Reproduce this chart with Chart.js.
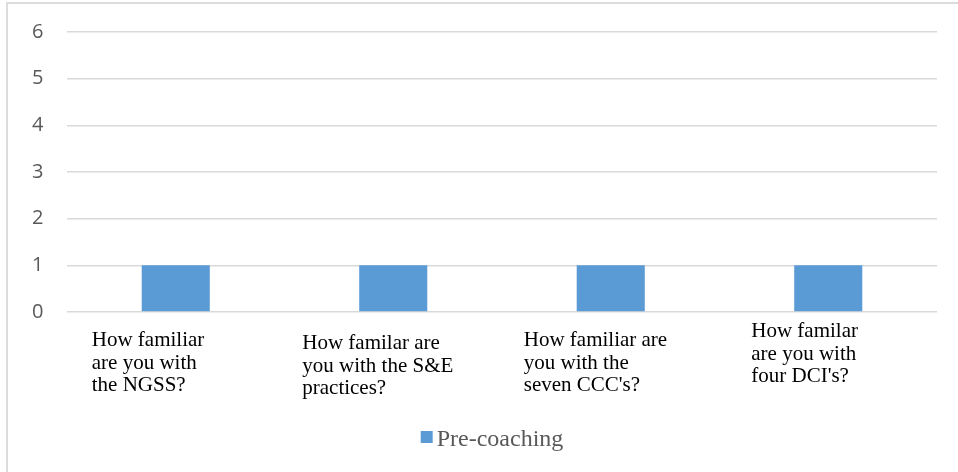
<!DOCTYPE html>
<html>
<head>
<meta charset="utf-8">
<script src="https://cdn.jsdelivr.net/npm/chart.js@4.4.1/dist/chart.umd.min.js"></script>
<style>
  html, body { margin: 0; padding: 0; background: #fff; }
  #frame {
    position: absolute; left: 6px; top: 2px;
    width: 952px; height: 470px;
    border-top: 2px solid #dcdcdc; border-left: 2px solid #dcdcdc;
  }
  #wrap { width: 950px; height: 468px; }
</style>
</head>
<body>
<div id="frame"><div id="wrap"><canvas id="barChart"></canvas></div></div>
<script>
// data
const categories = [
  ['How familiar', 'are you with', 'the NGSS?'],
  ['How familar are', 'you with the S&E', 'practices?'],
  ['How familiar are', 'you with the', "seven CCC's?"],
  ['How familar', 'are you with', "four DCI's?"]
];
const seriesName = 'Pre-coaching';
const preCoaching = [1, 1, 1, 1];
const yTicks = [0, 1, 2, 3, 4, 5, 6];

const serif = "'Liberation Serif', 'Times New Roman', serif";
const barColor = '#5b9bd5';

// x labels: left aligned blocks, placed from the category scale
const labelOffsets = [
  { dx: -84, dy: 18 },
  { dx: -91, dy: 21 },
  { dx: -87, dy: 18 },
  { dx: -77, dy: 9 }
];
const xLabelPlugin = {
  id: 'xLabels',
  afterDraw(chart) {
    const ctx = chart.ctx;
    const xs = chart.scales.x;
    const bottom = chart.chartArea.bottom;
    ctx.save();
    ctx.font = '21px ' + serif;
    ctx.fillStyle = '#000';
    ctx.textAlign = 'left';
    ctx.textBaseline = 'top';
    categories.forEach((lines, i) => {
      const x = xs.getPixelForValue(i) + labelOffsets[i].dx;
      lines.forEach((ln, j) => {
        ctx.fillText(ln, x, bottom + labelOffsets[i].dy + j * 22.5);
      });
    });
    ctx.restore();
  }
};

// legend like the office one: small square, tight gap
const legendPlugin = {
  id: 'officeLegend',
  afterDraw(chart) {
    const ctx = chart.ctx;
    const ds = chart.data.datasets[0];
    ctx.save();
    ctx.font = '24px ' + serif;
    const tw = ctx.measureText(ds.label).width;
    const total = 12 + 4 + tw;
    const x0 = (chart.chartArea.left + chart.chartArea.right) / 2 - total / 2 - 10;
    const yc = chart.chartArea.bottom + 125;
    ctx.fillStyle = ds.backgroundColor;
    ctx.fillRect(x0, yc - 6, 12, 12);
    ctx.fillStyle = '#595959';
    ctx.textAlign = 'left';
    ctx.textBaseline = 'alphabetic';
    ctx.fillText(ds.label, x0 + 16, yc + 9);
    ctx.restore();
  }
};

new Chart(document.getElementById('barChart'), {
  type: 'bar',
  data: {
    labels: categories.map(c => c.join(' ')),
    datasets: [{
      label: seriesName,
      data: preCoaching,
      backgroundColor: barColor,
      borderWidth: 0,
      categoryPercentage: 1,
      barPercentage: 0.313
    }]
  },
  options: {
    responsive: true,
    maintainAspectRatio: false,
    animation: false,
    layout: { padding: { top: 28, right: 21, left: 24, bottom: 0 } },
    plugins: {
      tooltip: { enabled: false },
      legend: { display: false }
    },
    scales: {
      x: {
        grid: { display: false },
        border: { display: false },
        ticks: { display: false },
        afterFit(scale) { scale.height = 160; }
      },
      y: {
        min: 0,
        max: 6,
        afterBuildTicks(scale) { scale.ticks = yTicks.map(v => ({ value: v })); },
        grid: { color: '#d9d9d9', lineWidth: 1.5, drawTicks: false },
        border: { display: false },
        ticks: {
          color: '#595959',
          padding: 0,
          crossAlign: 'far',
          font: { family: "'Open Sans', sans-serif", size: 20 }
        },
        afterFit(scale) { scale.width = 35; }
      }
    }
  },
  plugins: [xLabelPlugin, legendPlugin]
});
</script>
</body>
</html>
